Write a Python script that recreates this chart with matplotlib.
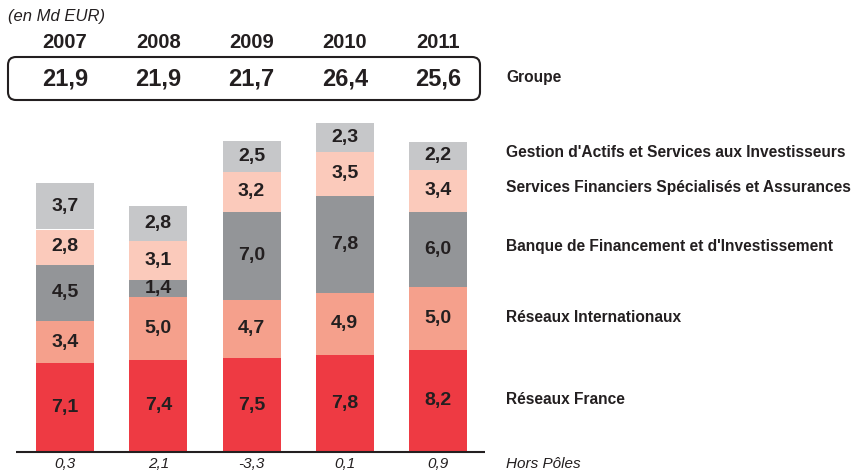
import matplotlib
matplotlib.use("Agg")
import matplotlib.pyplot as plt
from matplotlib.patches import FancyBboxPatch

plt.rcParams['font.family'] = ['Liberation Sans', 'DejaVu Sans']

years = ["2007", "2008", "2009", "2010", "2011"]
groupe = ["21,9", "21,9", "21,7", "26,4", "25,6"]
hors_poles = ["0,3", "2,1", "-3,3", "0,1", "0,9"]

segments = [
    "Réseaux France",
    "Réseaux Internationaux",
    "Banque de Financement et d'Investissement",
    "Services Financiers Spécialisés et Assurances",
    "Gestion d'Actifs et Services aux Investisseurs",
]
reseaux_france = [7.1, 7.4, 7.5, 7.8, 8.2]
reseaux_intl = [3.4, 5.0, 4.7, 4.9, 5.0]
bfi = [4.5, 1.4, 7.0, 7.8, 6.0]
sfsa = [2.8, 3.1, 3.2, 3.5, 3.4]
gasi = [3.7, 2.8, 2.5, 2.3, 2.2]

colors = ["#EE3A43", "#F5A08C", "#939598", "#FBCABB", "#C6C7C9"]
TXT = "#231F20"

W, H = 856, 472
fig = plt.figure(figsize=(W / 100, H / 100), dpi=100)
ax = fig.add_axes([0, 0, 1, 1])
ax.axis('off')

# pixel layout: bar centres at 65 + 93.25*i, baseline at y=452, 12.55 px per unit
x0, dx = 65, 93.25
base, ppu = 452, 12.5
ax.set_xlim(-x0 / dx, (W - x0) / dx)
ax.set_ylim(-(H - base) / ppu, base / ppu)


def py(p):
    # convert a pixel row (from top) into data y
    return (base - p) / ppu


def px(p):
    return (p - x0) / dx


xs = list(range(len(years)))
bottom = [0.0] * len(years)
for vals, col in zip([reseaux_france, reseaux_intl, bfi, sfsa, gasi], colors):
    ax.bar(xs, vals, bottom=bottom, width=58 / dx, color=col, linewidth=0)
    for i, v in enumerate(vals):
        ax.text(i, bottom[i] + v / 2, f"{v:.1f}".replace(".", ","),
                ha="center", va="center", fontsize=14, fontweight="bold",
                color=TXT)
    bottom = [b + v for b, v in zip(bottom, vals)]

ax.plot([px(16), px(485)], [0, 0], color=TXT, lw=1.5, solid_capstyle="butt")

for i in xs:
    ax.text(i, py(464), hors_poles[i], ha="center",
            va="center", fontsize=11, style="italic", color=TXT)
    ax.text(i, py(43), years[i], ha="center", va="center", fontsize=14.5,
            fontweight="bold", color=TXT)
    ax.text(i, py(79), groupe[i], ha="center", va="center", fontsize=17,
            fontweight="bold", color=TXT)

box = FancyBboxPatch((8, H - 100), 472, 43,
                     boxstyle="round,pad=0,rounding_size=8",
                     transform=None, facecolor="none", edgecolor=TXT, lw=1.5)
fig.patches.append(box)

ax.text(px(8), py(17), "(en Md EUR)", ha="left", va="center", fontsize=12,
        style="italic", color=TXT)

legend_rows = [("Groupe", 78), (segments[4], 153), (segments[3], 188),
               (segments[2], 247), (segments[1], 317), (segments[0], 399)]
for label, row in legend_rows:
    ax.text(px(506), py(row), label, ha="left", va="center", fontsize=11.2,
            fontweight="bold", color=TXT)
ax.text(px(506), py(464), "Hors Pôles", ha="left", va="center",
        fontsize=11, style="italic", color=TXT)

fig.savefig("out.png", dpi=100)
